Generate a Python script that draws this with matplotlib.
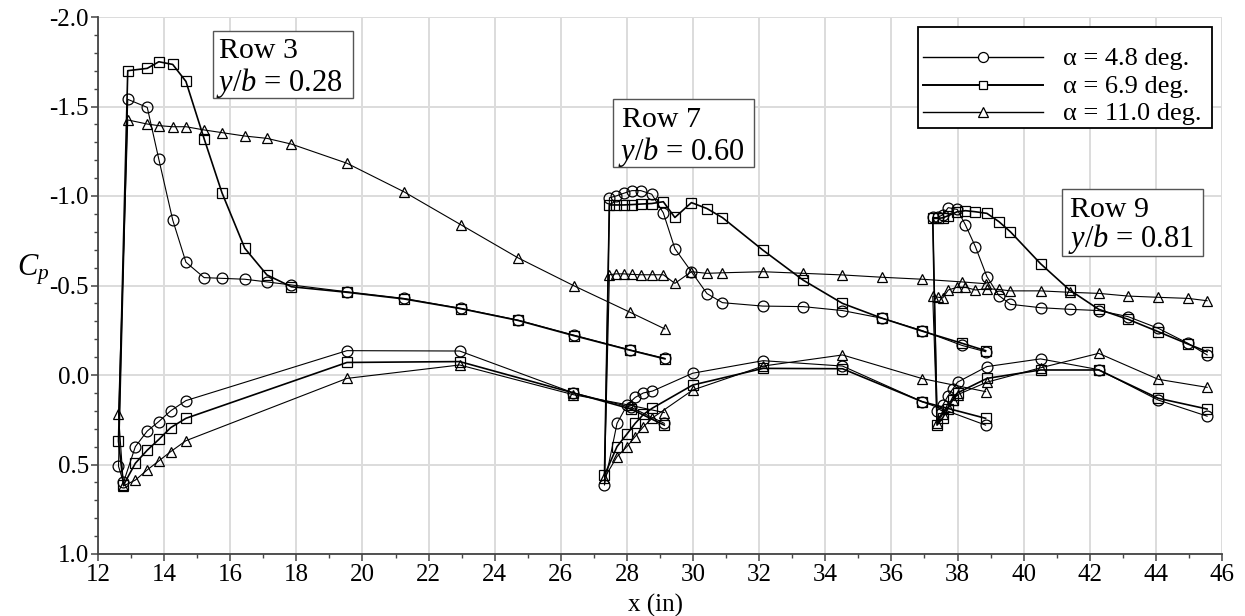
import matplotlib
matplotlib.use("Agg")
import matplotlib.pyplot as plt
from matplotlib.ticker import MultipleLocator, FormatStrFormatter
from matplotlib.patches import Rectangle
from matplotlib.lines import Line2D
from matplotlib.transforms import Affine2D

plt.rcParams['font.family'] = ['Liberation Serif', 'DejaVu Serif']
plt.rcParams['mathtext.fontset'] = 'custom'
plt.rcParams['mathtext.rm'] = 'Liberation Serif'
plt.rcParams['mathtext.it'] = 'Liberation Serif:italic'
plt.rcParams['axes.unicode_minus'] = False

alpha_labels = ["α = 4.8 deg.", "α = 6.9 deg.", "α = 11.0 deg."]

# ---- Row 3, y/b = 0.28 ----
row3_upper_x = [12.90, 13.49, 13.84, 14.26, 14.66, 15.21, 15.75, 16.44, 17.11, 17.85,
                19.53, 21.25, 22.99, 24.70, 26.39, 28.10, 29.15]
row3_upper_a48 = [-1.54, -1.495, -1.205, -0.866, -0.63, -0.544, -0.54, -0.535, -0.52, -0.503,
                  -0.465, -0.428, -0.372, -0.307, -0.223, -0.14, -0.093]
row3_upper_a69 = [-1.70, -1.713, -1.75, -1.735, -1.64, -1.32, -1.018, -0.708, -0.559, -0.493,
                  -0.462, -0.425, -0.37, -0.305, -0.22, -0.138, -0.09]
row3_upper_a110 = [-1.425, -1.402, -1.393, -1.387, -1.387, -1.369, -1.354, -1.335, -1.322, -1.29,
                   -1.183, -1.024, -0.838, -0.655, -0.499, -0.35, -0.257]
row3_nose_x = 12.62
row3_nose_cp = [0.51, 0.37, 0.22]
row3_lower_x = [12.77, 13.13, 13.49, 13.84, 14.20, 14.66, 19.53, 22.94, 26.38, 28.12, 29.13]
row3_lower_a48 = [0.60, 0.40, 0.313, 0.26, 0.20, 0.143, -0.136, -0.134, 0.10, 0.18, 0.27]
row3_lower_a69 = [0.615, 0.493, 0.42, 0.36, 0.294, 0.242, -0.07, -0.075, 0.10, 0.19, 0.28]
row3_lower_a110 = [0.62, 0.587, 0.53, 0.48, 0.428, 0.367, 0.019, -0.056, 0.11, 0.17, 0.21]

# ---- Row 7, y/b = 0.60 ----
row7_upper_x = [27.47, 27.67, 27.90, 28.15, 28.42, 28.75, 29.10, 29.45, 29.95, 30.42,
                30.89, 32.11, 33.33, 34.52, 35.72, 36.93, 38.14, 38.85]
row7_upper_a48 = [-0.99, -1.0, -1.015, -1.03, -1.03, -1.01, -0.906, -0.706, -0.577, -0.455,
                  -0.404, -0.385, -0.382, -0.36, -0.317, -0.248, -0.165, -0.13]
row7_upper_a69 = [-0.95, -0.95, -0.95, -0.952, -0.955, -0.958, -0.968, -0.88, -0.963, -0.93,
                  -0.879, -0.698, -0.53, -0.40, -0.317, -0.245, -0.177, -0.136]
row7_upper_a110 = [-0.56, -0.565, -0.565, -0.562, -0.56, -0.56, -0.56, -0.512, -0.577, -0.568,
                   -0.571, -0.577, -0.568, -0.559, -0.546, -0.535, -0.52, -0.51]
row7_nose_x = 27.32
row7_nose_cp = [0.615, 0.56, 0.575]
row7_lower_x = [27.70, 28.00, 28.25, 28.50, 28.77, 29.99, 32.12, 34.52, 36.93, 38.85]
row7_lower_a48 = [0.27, 0.17, 0.125, 0.10, 0.09, -0.01, -0.08, -0.05, 0.149, 0.28]
row7_lower_a69 = [0.40, 0.33, 0.27, 0.22, 0.185, 0.056, -0.037, -0.035, 0.149, 0.242]
row7_lower_a110 = [0.456, 0.40, 0.344, 0.289, 0.24, 0.084, -0.05, -0.112, 0.02, 0.093]

# ---- Row 9, y/b = 0.81 ----
row9_upper_x = [37.25, 37.40, 37.55, 37.72, 37.99, 38.24, 38.54, 38.89, 39.25, 39.60,
                40.51, 41.39, 42.27, 43.16, 44.07, 44.97, 45.55]
row9_upper_a48 = [-0.88, -0.88, -0.895, -0.935, -0.925, -0.838, -0.717, -0.549, -0.444, -0.395,
                  -0.376, -0.367, -0.36, -0.326, -0.261, -0.177, -0.112]
row9_upper_a69 = [-0.875, -0.875, -0.878, -0.89, -0.912, -0.918, -0.912, -0.903, -0.857, -0.80,
                  -0.622, -0.475, -0.367, -0.311, -0.242, -0.173, -0.13]
row9_upper_a110 = [-0.44, -0.435, -0.43, -0.475, -0.49, -0.49, -0.475, -0.482, -0.478, -0.47,
                   -0.47, -0.462, -0.456, -0.441, -0.434, -0.428, -0.415]
row9_nose_x = 37.38
row9_nose_cp = [0.20, 0.28, 0.27]
row9_lower_x = [37.55, 37.70, 37.85, 38.00, 38.89, 40.51, 42.27, 44.07, 45.55]
row9_lower_a48 = [0.17, 0.12, 0.08, 0.04, -0.047, -0.09, -0.03, 0.14, 0.23]
row9_lower_a69 = [0.24, 0.19, 0.14, 0.10, 0.019, -0.028, -0.028, 0.13, 0.19]
row9_lower_a110 = [0.22, 0.18, 0.14, 0.11, 0.04, -0.04, -0.121, 0.024, 0.069]

row_titles = ["Row 3", "Row 7", "Row 9"]
row_spans = ["0.28", "0.60", "0.81"]

rows = [
    (row3_upper_x, [row3_upper_a48, row3_upper_a69, row3_upper_a110],
     row3_nose_x, row3_nose_cp,
     row3_lower_x, [row3_lower_a48, row3_lower_a69, row3_lower_a110]),
    (row7_upper_x, [row7_upper_a48, row7_upper_a69, row7_upper_a110],
     row7_nose_x, row7_nose_cp,
     row7_lower_x, [row7_lower_a48, row7_lower_a69, row7_lower_a110]),
    (row9_upper_x, [row9_upper_a48, row9_upper_a69, row9_upper_a110],
     row9_nose_x, row9_nose_cp,
     row9_lower_x, [row9_lower_a48, row9_lower_a69, row9_lower_a110]),
]

markers = ['o', 's', '^']
marker_sizes = [7.8, 6.6, 7.6]
line_widths = [0.8, 1.2, 0.8]

W, H = 1245, 616
fig = plt.figure(figsize=(W / 100, H / 100), dpi=100)
ax = fig.add_axes([98 / W, 1 - 554 / H, 1124 / W, 537 / H])
# image-pixel coordinates (origin top-left) for annotations
px = Affine2D().scale(1 / W, -1 / H).translate(0, 1) + fig.transFigure

for ux, ucps, nx, ncp, lx, lcps in rows:
    for k in range(3):
        xs = ux[::-1] + [nx] + lx
        ys = ucps[k][::-1] + [ncp[k]] + lcps[k]
        ax.plot(xs, ys, color='black', lw=line_widths[k], marker=markers[k],
                ms=marker_sizes[k], mfc='none', mec='black', mew=0.9, zorder=3)

ax.set_xlim(12, 46)
ax.set_ylim(1.0, -2.0)
ax.xaxis.set_major_locator(MultipleLocator(2))
ax.xaxis.set_minor_locator(MultipleLocator(1))
ax.yaxis.set_major_locator(MultipleLocator(0.5))
ax.yaxis.set_minor_locator(MultipleLocator(0.1))
ax.yaxis.set_major_formatter(FormatStrFormatter('%.1f'))
ax.grid(True, which='major', color='#dcdcdc', lw=1.4, zorder=0)
ax.set_axisbelow(True)
for s in ['top', 'right']:
    ax.spines[s].set_visible(False)
for s in ['left', 'bottom']:
    ax.spines[s].set_color('#444444')
    ax.spines[s].set_linewidth(1.3)
ax.tick_params(which='major', direction='out', length=5, width=1.1, color='#444444',
               labelsize=18, labelcolor='black')
ax.tick_params(which='minor', direction='out', length=3, width=1.0, color='#444444')
ax.tick_params(axis='x', pad=2)
ax.tick_params(axis='y', pad=1.5)

fig.text(33, 270, r'$C_p$', transform=px, ha='center', va='center', fontsize=22)
fig.text(655, 605, 'x (in)', transform=px, ha='center', va='center', fontsize=18)

# row annotation boxes
boxes = [(212.7, 30.7, 140.6, 67.6, 219.3, 58.3, 216.5, 90.7),
         (613.3, 98.5, 141.0, 68.2, 621.7, 127.3, 618.0, 160.0),
         (1062.3, 189.0, 140.4, 67.0, 1070.0, 216.7, 1068.3, 246.7)]
for (bx, by, bw, bh, t1x, t1y, t2x, t2y), title, span in zip(boxes, row_titles, row_spans):
    fig.add_artist(Rectangle((bx, by), bw, bh, transform=px, facecolor='white',
                             edgecolor='#555555', lw=1.0, zorder=5))
    fig.text(t1x, t1y, title, transform=px, ha='left', va='baseline', fontsize=21.5, zorder=6)
    fig.text(t2x, t2y, r'$y/b$ = ' + span, transform=px, ha='left', va='baseline',
             fontsize=22, zorder=6)

# legend
fig.add_artist(Rectangle((918.3, 26.7), 293.4, 101.6, transform=px, facecolor='white',
                         edgecolor='black', lw=1.3, zorder=5))
legend_rows = [56.7, 84.5, 111.7]
for k, (yy, lab) in enumerate(zip(legend_rows, alpha_labels)):
    fig.add_artist(Line2D([923, 983, 1043], [yy, yy, yy], transform=px, color='black',
                          lw=line_widths[k] + 0.2, marker=markers[k], markevery=[1],
                          ms=marker_sizes[k] - 0.6, mfc='white', mec='black', mew=0.9,
                          zorder=6))
    fig.text(1063.3, yy + 8, lab, transform=px, ha='left', va='baseline', fontsize=19, zorder=6)

fig.savefig('out.png', dpi=100)
